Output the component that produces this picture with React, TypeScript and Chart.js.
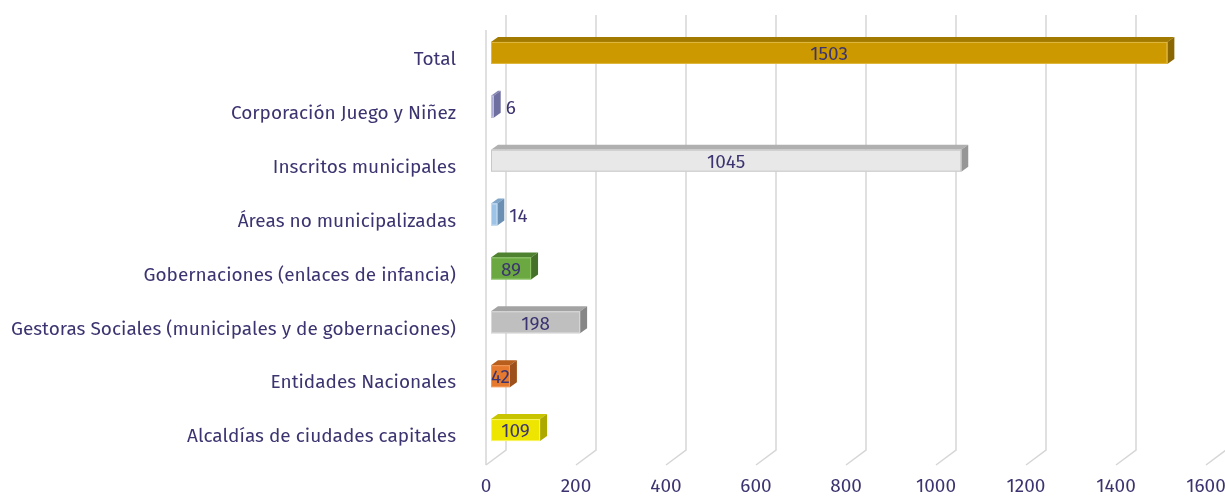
import { useEffect, useRef } from 'react';
import { Chart, registerables } from 'chart.js';

Chart.register(...registerables);

const categories = [
  'Total',
  'Corporación Juego y Niñez',
  'Inscritos municipales',
  'Áreas no municipalizadas',
  'Gobernaciones (enlaces de infancia)',
  'Gestoras Sociales (municipales y de gobernaciones)',
  'Entidades Nacionales',
  'Alcaldías de ciudades capitales',
];
const values = [1503, 6, 1045, 14, 89, 198, 42, 109];

const frontColors = ['#CC9900', '#A3A3CF', '#E8E8E8', '#9DC3E6', '#6BA842', '#BFBFBF', '#E57A2E', '#EEE600'];
const topColors = ['#A37A00', '#8585B5', '#B0B0B0', '#7FA6C9', '#4F8230', '#A3A3A3', '#B85F1E', '#C9C400'];
const sideColors = ['#8A6700', '#6F6FA0', '#969696', '#6A8FB3', '#447029', '#868686', '#9E511A', '#ADA900'];
const frontBorders = ['#E0B840', '#C0C0E0', '#C8C8C8', '#C0DAF0', '#8CC466', '#D8D8D8', '#F09A5A', '#F8F460'];

const TEXT_COLOR = '#3B3470';
const FONT_FAMILY = '"Fira Sans", "Noto Sans", sans-serif';
const FONT_SIZE = 19;

const DEPTH_X = 20;
const DEPTH_Y = 15;
const BAR_OFF_X = 5;
const BAR_OFF_Y = -5;
const BAR_DX = 7;
const BAR_DY = 5;

const wallsPlugin = {
  id: 'walls3d',
  beforeDatasetsDraw(chart: any) {
    const { ctx, chartArea, scales } = chart;
    const x = scales.x;
    const fTop = chartArea.top - 1;
    const fBot = chartArea.bottom + 3;
    ctx.save();
    ctx.strokeStyle = '#D6D6D6';
    ctx.lineWidth = 1.5;
    const x0 = x.getPixelForValue(0);
    ctx.beginPath();
    ctx.moveTo(x0, fTop);
    ctx.lineTo(x0, fBot);
    ctx.stroke();
    x.ticks.forEach((t: any) => {
      const px = x.getPixelForValue(t.value);
      ctx.beginPath();
      ctx.moveTo(px + DEPTH_X, fTop - DEPTH_Y);
      ctx.lineTo(px + DEPTH_X, fBot - DEPTH_Y);
      ctx.lineTo(px, fBot);
      ctx.stroke();
    });
    ctx.restore();
  },
};

const bars3dPlugin = {
  id: 'bars3d',
  afterDatasetsDraw(chart: any) {
    const { ctx } = chart;
    const meta = chart.getDatasetMeta(0);
    ctx.save();
    meta.data.forEach((el: any, i: number) => {
      const { x: xe, y: ye, base, height } = el.getProps(['x', 'y', 'base', 'height'], true);
      const l = base + BAR_OFF_X;
      const r = xe + BAR_OFF_X;
      const cy = ye + BAR_OFF_Y;
      const t = cy - height / 2;
      const b = t + height;
      ctx.fillStyle = topColors[i];
      ctx.beginPath();
      ctx.moveTo(l, t);
      ctx.lineTo(l + BAR_DX, t - BAR_DY);
      ctx.lineTo(r + BAR_DX, t - BAR_DY);
      ctx.lineTo(r, t);
      ctx.closePath();
      ctx.fill();
      ctx.fillStyle = sideColors[i];
      ctx.beginPath();
      ctx.moveTo(r, t);
      ctx.lineTo(r + BAR_DX, t - BAR_DY);
      ctx.lineTo(r + BAR_DX, b - BAR_DY);
      ctx.lineTo(r, b);
      ctx.closePath();
      ctx.fill();
      ctx.fillStyle = frontColors[i];
      ctx.fillRect(l, t, r - l, height);
      ctx.strokeStyle = frontBorders[i];
      ctx.lineWidth = 1;
      ctx.strokeRect(l + 0.5, t + 0.5, Math.max(r - l - 1, 0), height - 1);
      ctx.fillStyle = TEXT_COLOR;
      ctx.font = `${FONT_SIZE}px ${FONT_FAMILY}`;
      ctx.textBaseline = 'middle';
      const label = String(values[i]);
      if (r - l < 15) {
        ctx.textAlign = 'left';
        ctx.fillText(label, r + BAR_DX + 5, cy + 2);
      } else {
        ctx.textAlign = 'center';
        ctx.fillText(label, (l + r) / 2, cy + 2);
      }
    });
    ctx.restore();
  },
};

export default function App() {
  const canvasRef = useRef<HTMLCanvasElement | null>(null);

  useEffect(() => {
    if (!canvasRef.current) return;
    const chart = new Chart(canvasRef.current, {
      type: 'bar',
      data: {
        labels: categories,
        datasets: [
          {
            data: values,
            backgroundColor: 'rgba(0,0,0,0)',
            borderWidth: 0,
            barPercentage: 0.408,
            categoryPercentage: 1,
          },
        ],
      },
      options: {
        indexAxis: 'y',
        animation: false,
        responsive: false,
        devicePixelRatio: 1,
        layout: { padding: { left: 0, right: 19, top: 31, bottom: 0 } },
        plugins: {
          legend: { display: false },
          tooltip: { enabled: false },
        },
        scales: {
          x: {
            min: 0,
            max: 1600,
            ticks: {
              stepSize: 200,
              padding: 13,
              maxRotation: 0,
              color: TEXT_COLOR,
              font: { family: FONT_FAMILY, size: FONT_SIZE },
              callback: (v: any) => String(v),
            },
            grid: { display: false, drawTicks: false },
            border: { display: false },
            afterFit: (scale: any) => {
              scale.height = 34;
              scale.paddingLeft = 0;
              scale.paddingRight = 0;
            },
          },
          y: {
            ticks: {
              padding: 30,
              labelOffset: 2,
              color: TEXT_COLOR,
              font: { family: FONT_FAMILY, size: FONT_SIZE },
            },
            grid: { display: false, drawTicks: false },
            border: { display: false },
            afterFit: (scale: any) => {
              scale.width = 486;
              scale.paddingTop = 0;
              scale.paddingBottom = 0;
            },
          },
        },
      },
      plugins: [wallsPlugin, bars3dPlugin],
    });
    return () => chart.destroy();
  }, []);

  return (
    <div style={{ position: 'fixed', left: 0, top: 0, width: 1225, height: 496, background: '#fff' }}>
      <canvas ref={canvasRef} width={1225} height={496} style={{ width: 1225, height: 496 }} />
    </div>
  );
}
